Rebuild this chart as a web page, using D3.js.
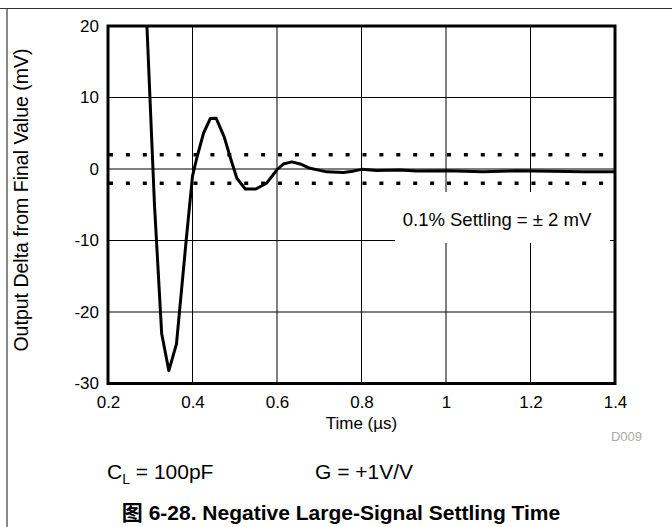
<!DOCTYPE html>
<html>
<head>
<meta charset="utf-8">
<script src="https://cdn.jsdelivr.net/npm/d3@7"></script>
<style>
  body { margin: 0; background: #fff; }
  text { font-family: "Liberation Sans", Arial, "Noto Sans CJK SC", sans-serif; }
</style>
</head>
<body>
<svg id="chart" width="672" height="527"></svg>
<script>
// settling response
var timeUs = [0.28, 0.31, 0.327, 0.344, 0.362, 0.385, 0.40, 0.41, 0.426, 0.442, 0.456, 0.475, 0.49, 0.505, 0.525, 0.55, 0.575, 0.60, 0.615, 0.635, 0.655, 0.678, 0.718, 0.757, 0.78, 0.80, 0.836, 0.891, 0.93, 1.0, 1.088, 1.167, 1.25, 1.325, 1.4];
var deltaMv = [37, -5, -23, -28.2, -24.5, -10, -1, 1.5, 5, 7.05, 7.1, 4.5, 1.5, -1.3, -2.8, -2.8, -2, -0.1, 0.7, 1.0, 0.7, 0.1, -0.4, -0.5, -0.3, -0.05, -0.2, -0.15, -0.28, -0.24, -0.37, -0.24, -0.3, -0.37, -0.4];
var xTicks = [0.2, 0.4, 0.6, 0.8, 1, 1.2, 1.4];
var yTicks = [20, 10, 0, -10, -20, -30];
var settleBand = [2, -2];

var svg = d3.select("#chart");

// page frame
svg.append("line").attr("x1", 0).attr("x2", 672).attr("y1", 8.5).attr("y2", 8.5)
    .attr("stroke", "#333").attr("stroke-width", 1);
svg.append("line").attr("x1", 7).attr("x2", 7).attr("y1", 9).attr("y2", 527)
    .attr("stroke", "#888").attr("stroke-width", 2);

var plot = { left: 108, right: 615, top: 26, bottom: 383.5 };

var xScale = d3.scaleLinear().domain([0.2, 1.4]).range([plot.left, plot.right]);
var yScale = d3.scaleLinear().domain([-30, 20]).range([plot.bottom, plot.top]);

var g = svg.append("g");

// grid
g.selectAll(".vgrid").data(xTicks.slice(1, -1)).enter().append("line")
    .attr("x1", function(d){ return xScale(d); })
    .attr("x2", function(d){ return xScale(d); })
    .attr("y1", plot.top).attr("y2", plot.bottom)
    .attr("stroke", "#000").attr("stroke-width", 1);
g.selectAll(".hgrid").data(yTicks.slice(1, -1)).enter().append("line")
    .attr("y1", function(d){ return yScale(d); })
    .attr("y2", function(d){ return yScale(d); })
    .attr("x1", plot.left).attr("x2", plot.right)
    .attr("stroke", "#000").attr("stroke-width", 1);

// +-2 mV band
g.selectAll(".band").data(settleBand).enter().append("line")
    .attr("y1", function(d){ return yScale(d); })
    .attr("y2", function(d){ return yScale(d); })
    .attr("x1", plot.left).attr("x2", plot.right)
    .attr("stroke", "#000").attr("stroke-width", 3.5)
    .attr("stroke-dasharray", "4,12.9")
    .attr("stroke-dashoffset", -1);

// annotation with white box
g.append("rect").attr("x", 395).attr("y", 192).attr("width", 215).attr("height", 51)
    .attr("fill", "#fff");
g.append("text").attr("x", 497).attr("y", 226).attr("text-anchor", "middle")
    .attr("font-size", 18.5).text("0.1% Settling = \u00B1 2 mV");

// curve
svg.append("clipPath").attr("id", "plotclip").append("rect")
    .attr("x", plot.left).attr("y", plot.top)
    .attr("width", plot.right - plot.left).attr("height", plot.bottom - plot.top);

var pts = timeUs.map(function(t, i){ return [t, deltaMv[i]]; });
var line = d3.line()
    .x(function(d){ return xScale(d[0]); })
    .y(function(d){ return yScale(d[1]); });

g.append("path")
    .attr("d", line(pts))
    .attr("clip-path", "url(#plotclip)")
    .attr("fill", "none")
    .attr("stroke", "#000")
    .attr("stroke-width", 3)
    .attr("stroke-linejoin", "round");

// border
g.append("rect").attr("x", plot.left).attr("y", plot.top)
    .attr("width", plot.right - plot.left).attr("height", plot.bottom - plot.top)
    .attr("fill", "none").attr("stroke", "#000").attr("stroke-width", 3);

// axes labels
var fmt = function(d){ return String(d); };
var xAxis = d3.axisBottom(xScale).tickValues(xTicks).tickSize(0).tickPadding(12).tickFormat(fmt);
var xg = svg.append("g").attr("transform", "translate(0," + plot.bottom + ")").call(xAxis);
xg.select(".domain").remove();
xg.selectAll("text").attr("font-size", 17).attr("fill", "#000")
    .style("font-family", "'Liberation Sans', Arial, sans-serif");

var yAxis = d3.axisLeft(yScale).tickValues(yTicks).tickSize(0).tickPadding(9).tickFormat(fmt);
var yg = svg.append("g").attr("transform", "translate(" + plot.left + ",0)").call(yAxis);
yg.select(".domain").remove();
yg.selectAll("text").attr("font-size", 17).attr("fill", "#000")
    .style("font-family", "'Liberation Sans', Arial, sans-serif");

svg.append("text").attr("x", (plot.left + plot.right) / 2).attr("y", 429)
    .attr("text-anchor", "middle").attr("font-size", 17).text("Time (\u00B5s)");

svg.append("text").attr("transform", "translate(28,200) rotate(-90)")
    .attr("text-anchor", "middle").attr("font-size", 19.5).text("Output Delta from Final Value (mV)");

svg.append("text").attr("x", 642).attr("y", 441).attr("text-anchor", "end")
    .attr("font-size", 13).attr("fill", "#aaa").text("D009");

// conditions
var cl = svg.append("text").attr("x", 107).attr("y", 479).attr("font-size", 21);
cl.append("tspan").text("C");
cl.append("tspan").attr("font-size", 14).attr("dy", 5).text("L");
cl.append("tspan").attr("dy", -5).text(" = 100pF");
svg.append("text").attr("x", 315).attr("y", 479).attr("font-size", 21).text("G = +1V/V");

// caption
svg.append("text").attr("x", 341).attr("y", 520).attr("text-anchor", "middle")
    .attr("font-size", 21).attr("font-weight", "bold")
    .text("\u56FE 6-28. Negative Large-Signal Settling Time");
</script>
</body>
</html>
